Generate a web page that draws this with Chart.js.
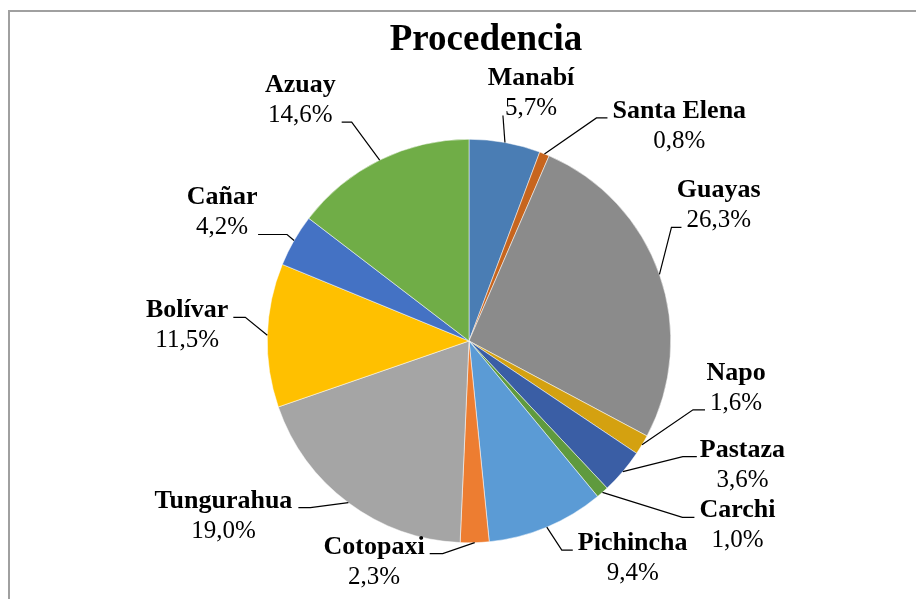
<!DOCTYPE html>
<html>
<head>
<meta charset="utf-8">
<script src="https://cdn.jsdelivr.net/npm/chart.js@4"></script>
<style>
  html, body { margin: 0; padding: 0; background: #fff; }
  #wrap { width: 916px; height: 599px; }
</style>
</head>
<body>
<div id="wrap"><canvas id="procChart" width="916" height="599"></canvas></div>
<script>
// Data (percent)
const provincias = ["Manabí", "Santa Elena", "Guayas", "Napo", "Pastaza", "Carchi",
  "Pichincha", "Cotopaxi", "Tungurahua", "Bolívar", "Cañar", "Azuay"];
const porcentajes = [5.7, 0.8, 26.3, 1.6, 3.6, 1.0, 9.4, 2.3, 19.0, 11.5, 4.2, 14.6];
const colores = ["#4a7db4", "#c7651e", "#8b8b8b", "#d4a110", "#3a5ea5", "#5f9a3e",
  "#5b9bd5", "#ed7d31", "#a5a5a5", "#ffc000", "#4472c4", "#70ad47"];

// leader line layout per label: elbow offset from slice edge, horizontal run,
// side of text (1 right, -1 left), which text line the leader attaches to
// (0 name, 1 percent), gap to text
const leaders = [
  [-2, -27, 0, 1, 1, 2],
  [52, -36, 11, 1, 0, 5],
  [12, -47, 10, 1, 1, 5],
  [51, -35, 12, 1, 1, 5],
  [60, -15, 14, 1, 0, 3],
  [80, 25, 12, 1, 0, 5],
  [15, 23, 11, 1, 0, 5],
  [-32, 11, -13, -1, 0, 5],
  [-38, 5, -12, -1, 0, 6],
  [-22, -18, -12, -1, 0, 5],
  [-7, -6, -29, -1, 1, 10],
  [-28, -38, -10, -1, 1, 9]
];

const nameFont = "bold 26px 'Liberation Serif', 'Times New Roman', serif";
const pctFont = "25px 'Liberation Serif', 'Times New Roman', serif";
const lineGap = 30;

const fmt = (v) => v.toFixed(1).replace(".", ",") + "%";

const decorPlugin = {
  id: "decor",
  beforeDraw(chart) {
    const ctx = chart.ctx;
    ctx.save();
    ctx.fillStyle = "#fff";
    ctx.fillRect(0, 0, chart.width, chart.height);
    // chart frame (only top and left edges are visible)
    ctx.strokeStyle = "#a0a0a0";
    ctx.lineWidth = 2;
    ctx.beginPath();
    ctx.moveTo(9, chart.height);
    ctx.lineTo(9, 11);
    ctx.lineTo(chart.width, 11);
    ctx.stroke();
    ctx.restore();
  },
  afterDraw(chart) {
    const ctx = chart.ctx;
    const meta = chart.getDatasetMeta(0);
    ctx.save();
    // title
    ctx.fillStyle = "#000";
    ctx.font = "bold 37px 'Liberation Serif', 'Times New Roman', serif";
    ctx.textAlign = "center";
    ctx.textBaseline = "alphabetic";
    ctx.fillText("Procedencia", 486, 50);

    meta.data.forEach((arc, i) => {
      const p = arc.getProps(["x", "y", "startAngle", "endAngle", "outerRadius"], true);
      const mid = (p.startAngle + p.endAngle) / 2;
      const ex = p.x + Math.cos(mid) * p.outerRadius;
      const ey = p.y + Math.sin(mid) * p.outerRadius;
      const [dx, dy, h, side, attach, gap] = leaders[i];
      const bx = ex + dx, by = ey + dy;
      const hx = bx + h;

      ctx.strokeStyle = "#000";
      ctx.lineWidth = 1.2;
      ctx.beginPath();
      ctx.moveTo(ex, ey);
      ctx.lineTo(bx, by);
      ctx.lineTo(hx, by);
      ctx.stroke();

      const name = provincias[i];
      const pct = fmt(porcentajes[i]);
      ctx.font = attach === 0 ? nameFont : pctFont;
      const w = ctx.measureText(attach === 0 ? name : pct).width;
      const cx = side > 0 ? hx + gap + w / 2 : hx - gap - w / 2;
      const nameBase = attach === 0 ? by : by - lineGap;

      ctx.textAlign = "center";
      ctx.font = nameFont;
      ctx.fillText(name, cx, nameBase);
      ctx.font = pctFont;
      ctx.fillText(pct, cx, nameBase + lineGap);
    });
    ctx.restore();
  }
};

document.addEventListener("DOMContentLoaded", function () {
  const ctx = document.getElementById("procChart").getContext("2d");
  new Chart(ctx, {
    type: "pie",
    data: {
      labels: provincias,
      datasets: [{
        data: porcentajes,
        backgroundColor: colores,
        borderColor: "#ffffff",
        borderWidth: 0.5
      }]
    },
    options: {
      responsive: false,
      animation: false,
      layout: { padding: { left: 267, right: 245, top: 139, bottom: 56 } },
      plugins: {
        legend: { display: false },
        title: { display: false },
        tooltip: { enabled: true }
      }
    },
    plugins: [decorPlugin]
  });
});
</script>
</body>
</html>
